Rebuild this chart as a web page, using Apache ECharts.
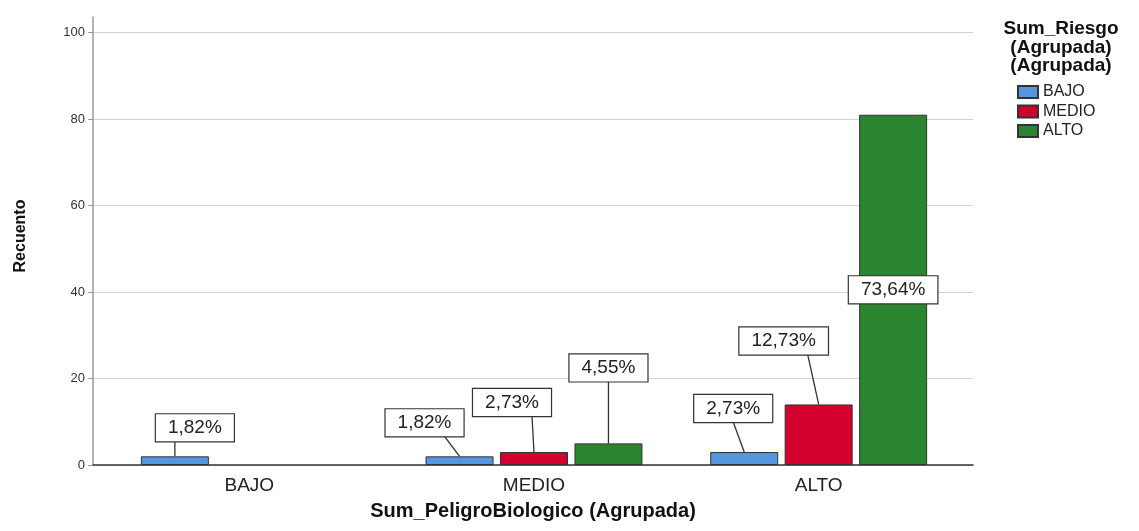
<!DOCTYPE html>
<html>
<head>
<meta charset="utf-8">
<script src="https://cdn.jsdelivr.net/npm/echarts@6/dist/echarts.min.js"></script>
<style>
  html, body { margin: 0; padding: 0; background: #fff; }
  #main { width: 1139px; height: 531px; }
</style>
</head>
<body>
<div id="main"></div>
<script>
// categorias del eje X (Sum_PeligroBiologico agrupada)
const categories = ['BAJO', 'MEDIO', 'ALTO'];
// series (Sum_Riesgo agrupada)
const riesgoNames = ['BAJO', 'MEDIO', 'ALTO'];
const riesgoBajo = [2, 2, 3];
const riesgoMedio = [0, 3, 14];
const riesgoAlto = [0, 5, 81];
const yTicks = [0, 20, 40, 60, 80, 100];

const colors = ['#5596e1', '#d4002e', '#2b8530'];
const FONT = 'Liberation Sans, Arial, sans-serif';
const BAR_W = 68;
const BAR_GAP = 0.095;
const BOX_H = 27;
const Y_MAX = 103.6;

// colocacion de cada etiqueta: [dx caja, altura sobre la barra, dx de la linea en la caja]
const labelPlace = [
  [[20, 15, 0], [-35, 20, -15], [-11, 30, -11]],
  [null, [-22, 36, -2], [-35, 50, -11]],
  [null, [0, 62, 0], 'inside']
];

const values = [riesgoBajo, riesgoMedio, riesgoAlto];
const total = values.flat().reduce((a, b) => a + b, 0);
const pct = v => (v / total * 100).toFixed(2).replace('.', ',') + '%';

const chart = echarts.init(document.getElementById('main'));

const barSeries = riesgoNames.map((name, i) => ({
  name: name,
  type: 'bar',
  xAxisIndex: 1,
  yAxisIndex: 1,
  barWidth: BAR_W,
  barGap: BAR_GAP * 100 + '%',
  itemStyle: { color: colors[i], borderColor: '#333', borderWidth: 1 },
  emphasis: { disabled: true },
  data: values[i].map(v => (v ? v : null))
}));

const labelSeries = riesgoNames.map((name, i) => ({
  type: 'custom',
  xAxisIndex: 1,
  yAxisIndex: 1,
  z: 5,
  silent: true,
  data: values[i].map((v, c) => [c, v]),
  renderItem(params, api) {
    const c = api.value(0);
    const v = api.value(1);
    const place = labelPlace[i][c];
    if (!v || !place) return null;
    const top = api.coord([c, v]);
    const base = api.coord([c, 0]);
    const x = top[0] + (i - 1) * BAR_W * (1 + BAR_GAP);
    const boxStyle = {
      text: pct(v),
      fontSize: 19,
      fontFamily: FONT,
      lineHeight: 19,
      fill: '#222',
      align: 'center',
      verticalAlign: 'middle',
      backgroundColor: '#fff',
      borderColor: '#333',
      borderWidth: 1.2,
      padding: [4, 12]
    };
    if (place === 'inside') {
      return { type: 'text', x: x, y: (top[1] + base[1]) / 2, style: boxStyle };
    }
    const boxBottom = top[1] - place[1];
    return {
      type: 'group',
      children: [
        {
          type: 'line',
          shape: { x1: x + place[2], y1: boxBottom, x2: x, y2: top[1] },
          style: { stroke: '#333', lineWidth: 1.3 }
        },
        { type: 'text', x: x + place[0], y: boxBottom - BOX_H / 2, style: boxStyle }
      ]
    };
  }
}));

const option = {
  animation: false,
  backgroundColor: '#fff',
  title: {
    text: 'Sum_Riesgo\n(Agrupada)\n(Agrupada)',
    left: 1061,
    top: 20,
    padding: 0,
    textAlign: 'center',
    textStyle: { fontSize: 19, fontWeight: 'bold', lineHeight: 18.5, color: '#111', fontFamily: FONT }
  },
  legend: {
    data: riesgoNames,
    orient: 'vertical',
    left: 1017,
    top: 84,
    padding: 0,
    itemWidth: 20,
    itemHeight: 12,
    itemGap: 3.5,
    icon: 'rect',
    selectedMode: false,
    textStyle: { fontSize: 16, lineHeight: 15, color: '#222', fontFamily: FONT }
  },
  grid: [
    { left: 93, right: 166, top: 17, bottom: 66, outerBoundsMode: 'none' },
    { left: 107, right: 178, top: 17, bottom: 66, outerBoundsMode: 'none' }
  ],
  xAxis: [
    {
      type: 'category',
      gridIndex: 0,
      data: categories,
      name: 'Sum_PeligroBiologico (Agrupada)',
      nameLocation: 'middle',
      nameGap: 36,
      nameTextStyle: { fontSize: 20, fontWeight: 'bold', color: '#111', fontFamily: FONT },
      axisLine: { show: true, lineStyle: { color: '#333', width: 1.5 } },
      axisTick: { show: false },
      axisLabel: { show: false },
      splitLine: { show: false }
    },
    {
      type: 'category',
      gridIndex: 1,
      data: categories,
      axisLine: { show: false },
      axisTick: { show: false },
      axisLabel: { fontSize: 19, color: '#222', margin: 11, fontFamily: FONT },
      splitLine: { show: false }
    }
  ],
  yAxis: [
    {
      type: 'value',
      gridIndex: 0,
      min: yTicks[0],
      max: Y_MAX,
      interval: yTicks[1] - yTicks[0],
      name: 'Recuento',
      nameLocation: 'middle',
      nameGap: 64,
      nameRotate: 90,
      nameTextStyle: { fontSize: 16, fontWeight: 'bold', color: '#111', fontFamily: FONT, padding: [0, 0, 0, 10] },
      axisLine: { show: true, lineStyle: { color: '#999', width: 1.5 } },
      axisTick: { show: true, length: 5, lineStyle: { color: '#999' } },
      axisLabel: {
        margin: 8,
        fontSize: 13,
        color: '#333',
        fontFamily: FONT,
        showMaxLabel: false,
        formatter: v => (yTicks.includes(v) ? String(v) : '')
      },
      splitLine: { show: true, showMaxLine: false, lineStyle: { color: '#d3d3d3', width: 1 } }
    },
    {
      type: 'value',
      gridIndex: 1,
      min: yTicks[0],
      max: Y_MAX,
      show: false
    }
  ],
  series: [...barSeries, ...labelSeries]
};

chart.setOption(option);
</script>
</body>
</html>
